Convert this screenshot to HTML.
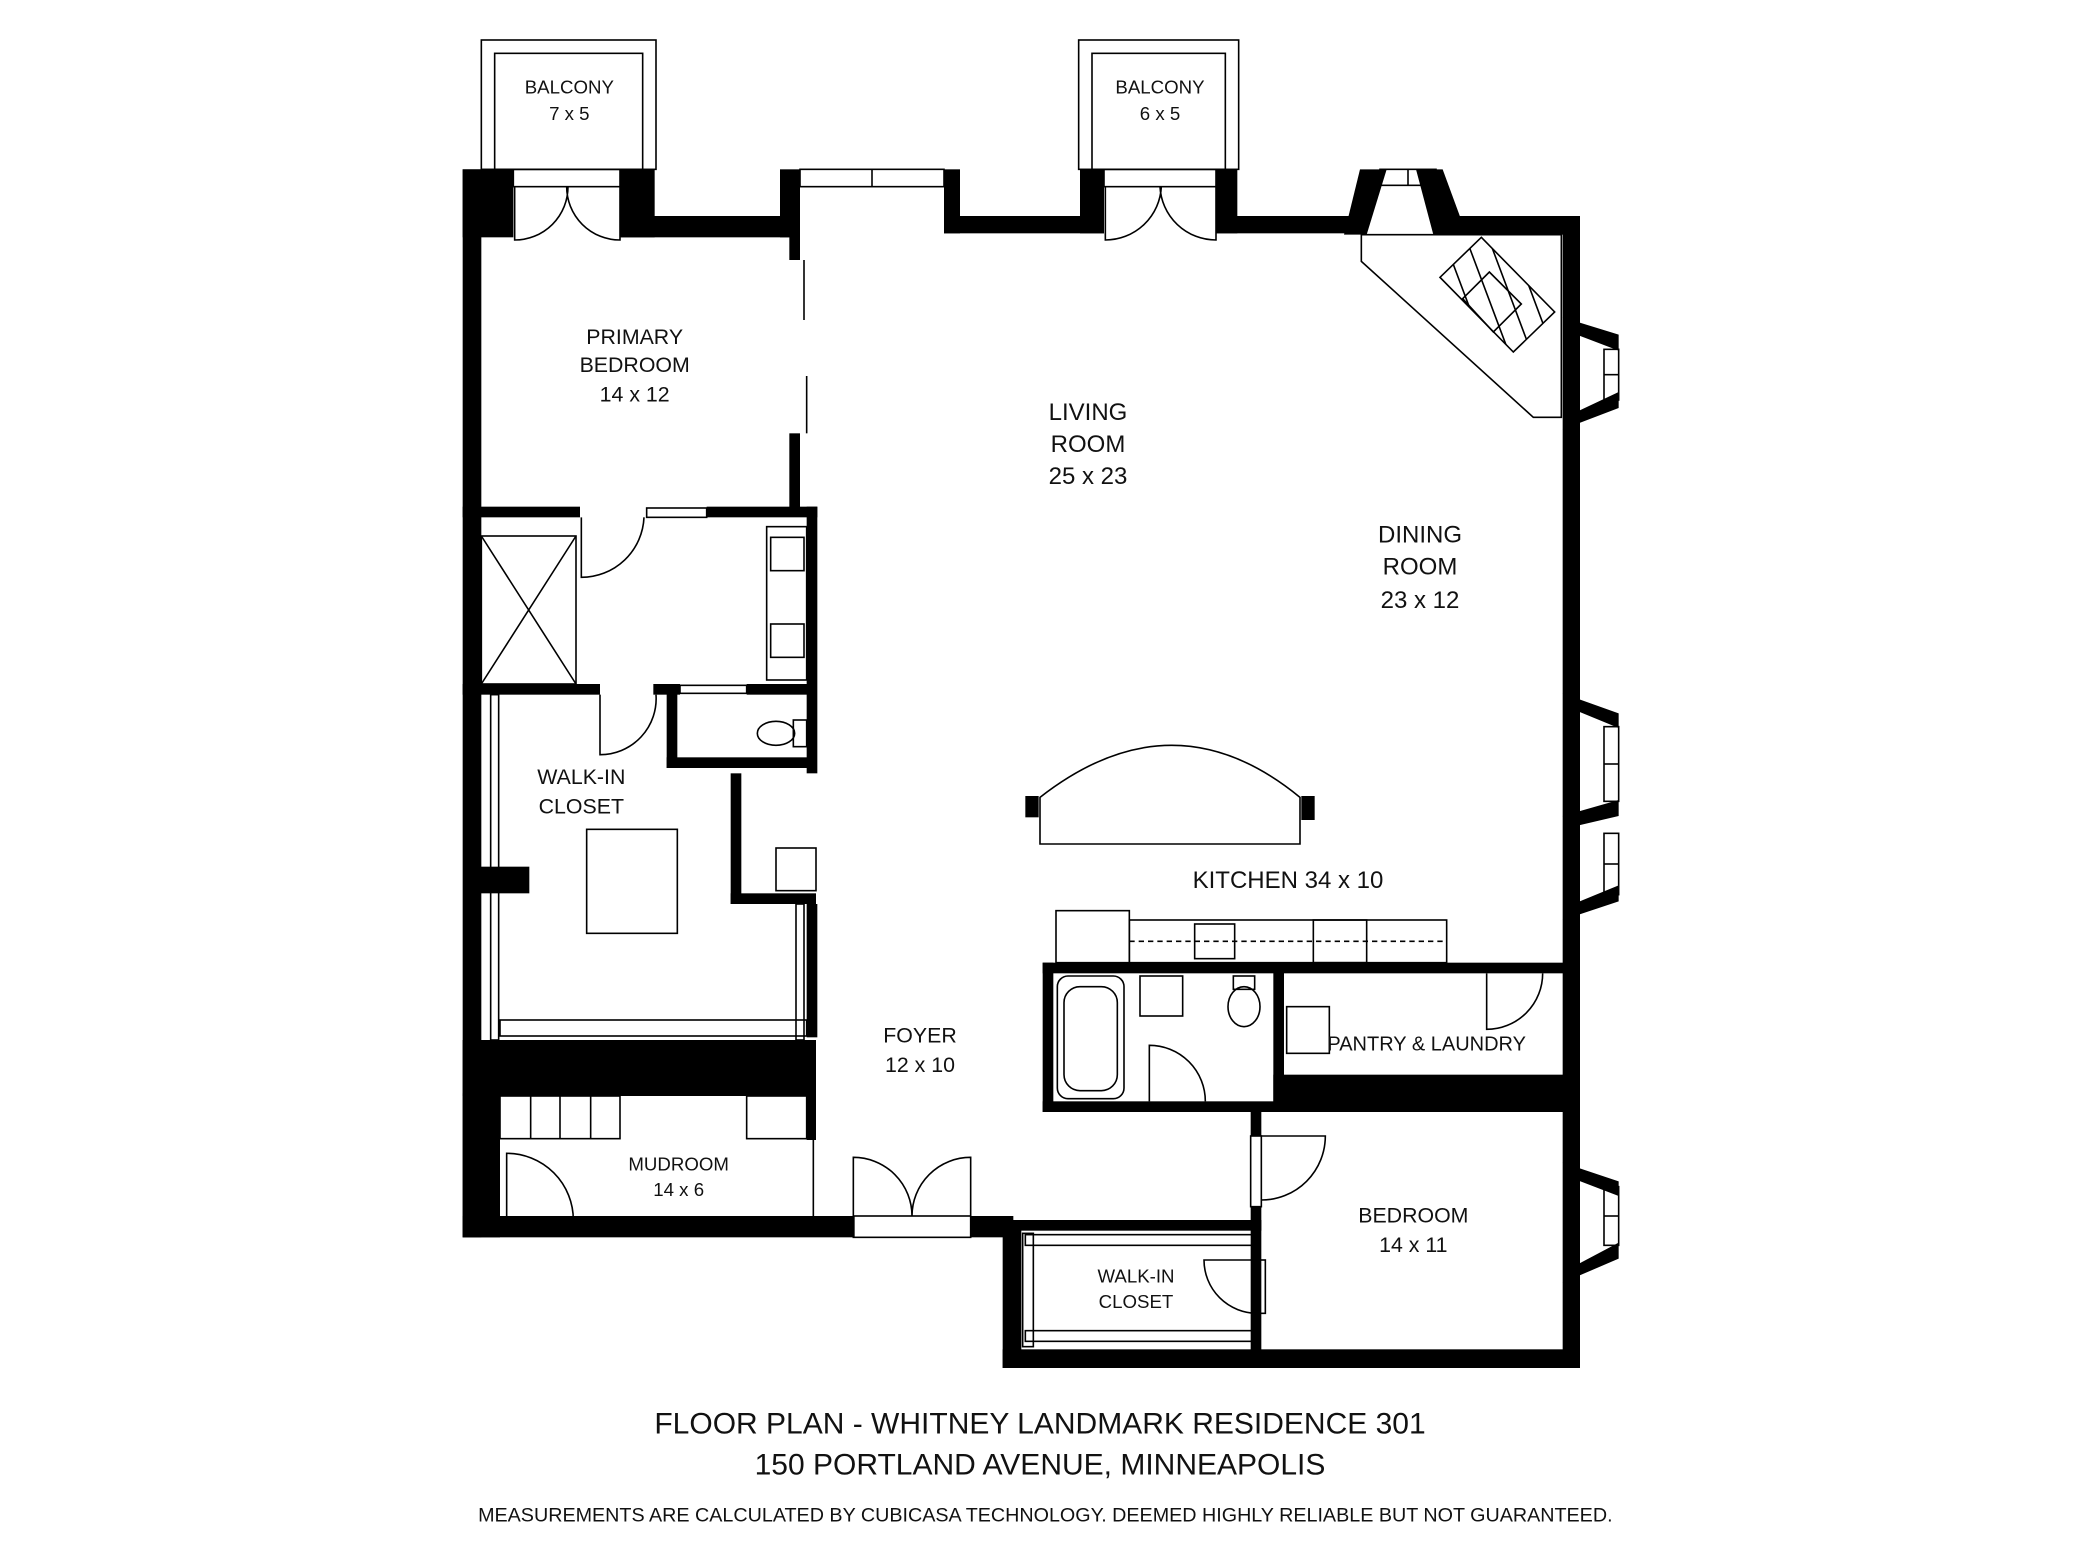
<!DOCTYPE html>
<html><head><meta charset="utf-8"><style>
html,body{margin:0;padding:0;background:#fff}
svg{display:block}
text{font-family:"Liberation Sans",sans-serif;fill:#111}
</style></head><body>
<svg width="2080" height="1560" viewBox="0 0 1560 1170" xmlns="http://www.w3.org/2000/svg">
<defs><clipPath id="fp"><polygon points="1111,178 1166,234 1135,264 1080,208"/></clipPath></defs>
<g fill="#000">
<rect x="347" y="127" width="38" height="51"/>
<rect x="465" y="127" width="26" height="51"/>
<rect x="465" y="162" width="127" height="16"/>
<rect x="585" y="127" width="15" height="51"/>
<rect x="708" y="127" width="12" height="48"/>
<rect x="708" y="162" width="120" height="13"/>
<rect x="810" y="127" width="18" height="48"/>
<rect x="912" y="127" width="16" height="48"/>
<rect x="912" y="162" width="110" height="13"/>
<polygon points="1020,127 1040,127 1025,176 1008,176"/>
<polygon points="1082,127 1062,127 1075,176 1100,176"/>
<rect x="1080" y="162" width="105" height="14"/>
<rect x="1172" y="162" width="13" height="864"/>
<polygon points="1172,238 1214,251 1214,263 1180,250"/>
<polygon points="1172,322 1214,306 1214,294 1180,310"/>
<polygon points="1172,520 1214,535 1214,546 1180,532"/>
<polygon points="1172,612 1214,600 1214,612 1180,620"/>
<polygon points="1172,690 1214,676 1214,664 1180,678"/>
<polygon points="1172,872 1214,886 1214,897 1180,884"/>
<polygon points="1172,962 1214,944 1214,932 1180,950"/>
<rect x="752" y="1012" width="433" height="14"/>
<rect x="752" y="915" width="14" height="111"/>
<rect x="347" y="912" width="294" height="16"/>
<rect x="728" y="912" width="32" height="16"/>
<rect x="347" y="127" width="14" height="801"/>
<rect x="347" y="820" width="28" height="108"/>
<rect x="592" y="170" width="8" height="25"/>
<rect x="592" y="325" width="8" height="60"/>
<rect x="347" y="380" width="88" height="8"/>
<rect x="530" y="380" width="83" height="8"/>
<rect x="605" y="380" width="8" height="200"/>
<rect x="347" y="513" width="103" height="8"/>
<rect x="490" y="513" width="20" height="8"/>
<rect x="560" y="513" width="52" height="8"/>
<rect x="500" y="513" width="8" height="63"/>
<rect x="500" y="568" width="112" height="8"/>
<rect x="548" y="580" width="8" height="98"/>
<rect x="548" y="670" width="64" height="8"/>
<rect x="360" y="650" width="37" height="20"/>
<rect x="347" y="780" width="265" height="42"/>
<rect x="605" y="820" width="7" height="35"/>
<rect x="605" y="678" width="8" height="100"/>
<rect x="782" y="722" width="398" height="8"/>
<rect x="782" y="722" width="8" height="112"/>
<rect x="782" y="826" width="178" height="8"/>
<rect x="955" y="722" width="8" height="112"/>
<rect x="955" y="806" width="225" height="28"/>
<rect x="938" y="832" width="8" height="20"/>
<rect x="938" y="905" width="8" height="115"/>
<rect x="760" y="915" width="186" height="8"/>
<rect x="769" y="597" width="10" height="16"/>
<rect x="976" y="597" width="10" height="18"/>
</g>
<g fill="none" stroke="#000" stroke-width="1.2">
<rect x="361" y="30" width="131" height="97"/><rect x="371" y="40" width="111" height="87"/>
<rect x="809" y="30" width="120" height="97"/><rect x="819" y="40" width="100" height="87"/>
<rect x="385" y="127" width="80" height="13"/>
<rect x="600" y="127" width="108" height="13"/><line x1="654" y1="127" x2="654" y2="140"/>
<rect x="828" y="127" width="84" height="13"/>
<path d="M386,140 v40 a40,40 0 0 0 40,-40 M465,140 v40 a40,40 0 0 1 -40,-40"/>
<path d="M829,140 v40 a42,42 0 0 0 42,-40 M912,140 v40 a42,42 0 0 1 -42,-40"/>
<rect x="1035" y="127" width="42" height="12"/>
<line x1="1056" y1="127" x2="1056" y2="139"/>
<polygon points="1021,176 1171,176 1171,313 1150,313 1021,196"/>
<polygon points="1111,178 1166,234 1135,264 1080,208"/>
<polygon points="1117,204 1141,228 1120,249 1097,224"/>
<g clip-path="url(#fp)"><path d="M1070,190 L1100,270 M1085,185 L1115,265 M1100,180 L1130,260 M1115,175 L1145,255 M1130,170 L1160,250 M1145,170 L1175,250"/></g>
<rect x="1203" y="262" width="11" height="38"/><line x1="1203" y1="281" x2="1214" y2="281"/>
<rect x="1203" y="545" width="11" height="56"/><line x1="1203" y1="573" x2="1214" y2="573"/>
<rect x="1203" y="625" width="11" height="46"/><line x1="1203" y1="648" x2="1214" y2="648"/>
<rect x="1203" y="890" width="11" height="44"/><line x1="1203" y1="912" x2="1214" y2="912"/>
<line x1="603" y1="195" x2="603" y2="240"/><line x1="605" y1="282" x2="605" y2="325"/>
<rect x="361" y="402" width="71" height="111"/>
<path d="M361,402 L432,513 M432,402 L361,513"/>
<path d="M436,388 v45 a47,47 0 0 0 47,-45"/>
<rect x="485" y="381" width="45" height="7"/>
<rect x="575" y="395" width="30" height="115"/>
<rect x="578" y="403" width="25" height="25"/><rect x="578" y="468" width="25" height="25"/>
<path d="M450,521 v45 a42,42 0 0 0 42,-45"/>
<rect x="510" y="514" width="50" height="6"/>
<ellipse cx="582" cy="550" rx="14" ry="9"/><rect x="595" y="540" width="10" height="20"/>
<rect x="582" y="636" width="30" height="32"/>
<rect x="368" y="521" width="6" height="259"/><rect x="597" y="678" width="6" height="102"/>
<rect x="375" y="765" width="230" height="12"/>
<rect x="440" y="622" width="68" height="78"/>
<rect x="375" y="822" width="90" height="32"/>
<path d="M398,822v32M420,822v32M443,822v32"/>
<rect x="560" y="822" width="45" height="32"/>
<path d="M380,915 v-50 a50,50 0 0 1 50,50"/>
<line x1="610" y1="855" x2="610" y2="912"/>
<rect x="640" y="912" width="88" height="16"/>
<path d="M640,912 v-44 a44,44 0 0 1 44,44 M728,912 v-44 a44,44 0 0 0 -44,44"/>
<path d="M780,633 L975,633 L975,598 Q880,520 780,598 Z"/>
<rect x="792" y="683" width="55" height="39"/>
<rect x="847" y="690" width="238" height="32"/>
<path d="M847,706 H1085" stroke-dasharray="4,3"/>
<rect x="896" y="693" width="30" height="26"/>
<rect x="985" y="690" width="40" height="32"/>
<rect x="793" y="732" width="50" height="92" rx="8"/>
<rect x="798" y="740" width="40" height="78" rx="12"/>
<rect x="855" y="732" width="32" height="30"/>
<ellipse cx="933" cy="755" rx="12" ry="15"/><rect x="925" y="732" width="16" height="10"/>
<path d="M862,826 v-42 a42,42 0 0 1 42,42"/>
<rect x="965" y="755" width="32" height="35"/>
<path d="M1115,730 v42 a42,42 0 0 0 42,-42"/>
<path d="M946,852 h48 a48,48 0 0 1 -48,48"/>
<rect x="938" y="852" width="8" height="53"/>
<rect x="767" y="925" width="8" height="85"/>
<rect x="769" y="998" width="170" height="8"/>
<rect x="769" y="926" width="170" height="8"/>
<path d="M943,945 h-40 a40,40 0 0 0 40,40"/><rect x="943" y="945" width="6" height="40"/>
</g>
<g font-size="16" text-anchor="middle">
<text x="427" y="70" font-size="14">BALCONY</text><text x="427" y="90" font-size="14">7 x 5</text>
<text x="870" y="70" font-size="14">BALCONY</text><text x="870" y="90" font-size="14">6 x 5</text>
<text x="476" y="258">PRIMARY</text><text x="476" y="279">BEDROOM</text><text x="476" y="301">14  x 12</text>
<text x="816" y="315" font-size="18">LIVING</text><text x="816" y="339" font-size="18">ROOM</text><text x="816" y="363" font-size="18">25  x 23</text>
<text x="1065" y="407" font-size="18">DINING</text><text x="1065" y="431" font-size="18">ROOM</text><text x="1065" y="456" font-size="18">23  x 12</text>
<text x="436" y="588">WALK-IN</text><text x="436" y="610">CLOSET</text>
<text x="966" y="666" font-size="18">KITCHEN  34  x 10</text>
<text x="690" y="782">FOYER</text><text x="690" y="804">12  x 10</text>
<text x="1070" y="788" font-size="15">PANTRY &amp; LAUNDRY</text>
<text x="509" y="878" font-size="14">MUDROOM</text><text x="509" y="897" font-size="14">14 x 6</text>
<text x="1060" y="917">BEDROOM</text><text x="1060" y="939">14  x 11</text>
<text x="852" y="962" font-size="14">WALK-IN</text><text x="852" y="981" font-size="14">CLOSET</text>
<text x="780" y="1075" font-size="22.5">FLOOR PLAN - WHITNEY LANDMARK RESIDENCE 301</text>
<text x="780" y="1106" font-size="22.5">150 PORTLAND AVENUE, MINNEAPOLIS</text>
<text x="784" y="1141" font-size="14.8">MEASUREMENTS ARE CALCULATED BY CUBICASA TECHNOLOGY. DEEMED HIGHLY RELIABLE BUT NOT GUARANTEED.</text>
</g>
</svg>
</body></html>
